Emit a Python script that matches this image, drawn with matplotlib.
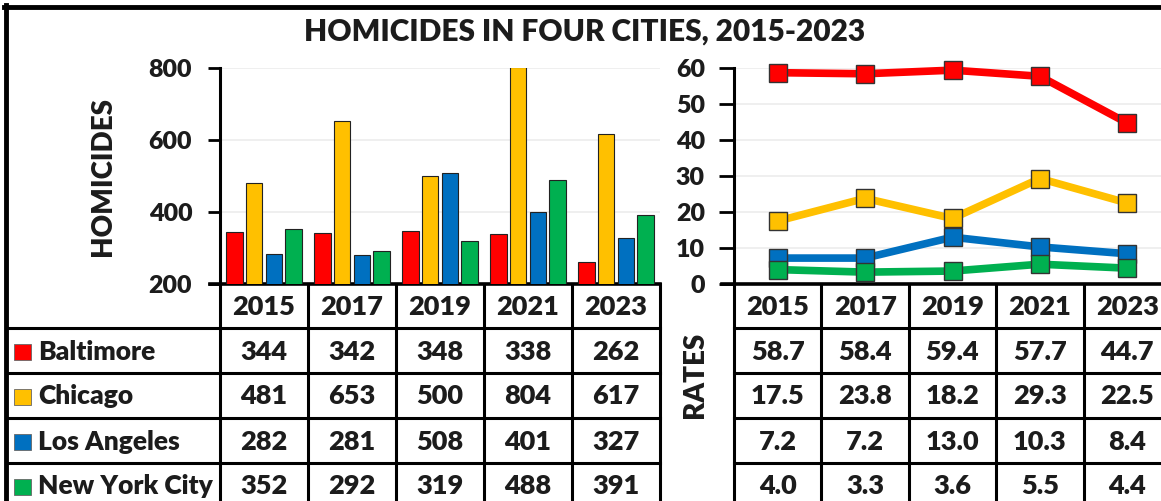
import matplotlib
matplotlib.use("Agg")
import matplotlib.pyplot as plt
from matplotlib.lines import Line2D
from matplotlib.patches import Rectangle
import numpy as np

# ---- data ----
years = ["2015", "2017", "2019", "2021", "2023"]
cities = ["Baltimore", "Chicago", "Los Angeles", "New York City"]
homicides_baltimore = [344, 342, 348, 338, 262]
homicides_chicago = [481, 653, 500, 804, 617]
homicides_la = [282, 281, 508, 401, 327]
homicides_nyc = [352, 292, 319, 488, 391]
rates_baltimore = [58.7, 58.4, 59.4, 57.7, 44.7]
rates_chicago = [17.5, 23.8, 18.2, 29.3, 22.5]
rates_la = [7.2, 7.2, 13.0, 10.3, 8.4]
rates_nyc = [4.0, 3.3, 3.6, 5.5, 4.4]
left_ticks = [200, 400, 600, 800]
right_ticks = [0, 10, 20, 30, 40, 50, 60]
title = "HOMICIDES IN FOUR CITIES, 2015-2023"

homicides = [homicides_baltimore, homicides_chicago, homicides_la, homicides_nyc]
rates = [rates_baltimore, rates_chicago, rates_la, rates_nyc]
colors = ["#ff0000", "#ffc000", "#0070c0", "#00b050"]

W, H = 1161, 501
WT = 800  # heavy
TXT = "#1c1c1c"
plt.rcParams["font.family"] = ["Lato", "DejaVu Sans"]
plt.rcParams["font.weight"] = WT
fig = plt.figure(figsize=(W / 100, H / 100), dpi=100)
fig.patch.set_facecolor("white")


def fx(x):
    return x / W


def fy(y):
    return 1 - y / H


def axes_px(x0, y0, x1, y1):
    return fig.add_axes([fx(x0), fy(y1), fx(x1) - fx(x0), fy(y0) - fy(y1)])


def hline(x0, x1, y, lw=2.2):
    fig.add_artist(Line2D([fx(x0), fx(x1)], [fy(y), fy(y)], color="black", lw=lw,
                          transform=fig.transFigure, solid_capstyle="projecting"))


def vline(x, y0, y1, lw=2.2):
    fig.add_artist(Line2D([fx(x), fx(x)], [fy(y0), fy(y1)], color="black", lw=lw,
                          transform=fig.transFigure, solid_capstyle="projecting"))


AX_TOP, AX_BOT = 68, 284
L0, L1 = 220, 660
R0, R1 = 734, 1171
n = len(years)
x = np.arange(n)

# ---- left bar chart ----
ax1 = axes_px(L0, AX_TOP, L1, AX_BOT)
bw = 0.19
for i, (vals, c) in enumerate(zip(homicides, colors)):
    ax1.bar(x + (i - 1.5) * 0.225, vals, width=bw, color=c, edgecolor="#222222",
            linewidth=0.8, zorder=3)
ax1.set_xlim(-0.5, n - 0.5)
ax1.set_ylim(left_ticks[0], left_ticks[-1])
ax1.set_yticks(left_ticks)
ax1.set_xticks([])
for s in ["top", "right"]:
    ax1.spines[s].set_visible(False)
ax1.spines["left"].set_linewidth(2.2)
ax1.spines["bottom"].set_linewidth(2.6)
ax1.spines["bottom"].set_bounds(-0.5 - 10 / 88, n - 0.5)
ax1.tick_params(axis="y", length=9, width=2, pad=11, labelsize=18, labelcolor=TXT)
ax1.grid(axis="y", color="#ececec", lw=1.2, zorder=0)
ax1.set_axisbelow(True)
for lbl in ax1.get_yticklabels():
    lbl.set_fontweight(WT)
ax1.set_ylabel("HOMICIDES", fontsize=20, fontweight=WT, labelpad=0, color=TXT)
ax1.yaxis.set_label_coords((116 - L0) / (L1 - L0), 0.5 - (177 - 176) / 216)

# ---- right line chart ----
ax2 = axes_px(R0, AX_TOP, R1, AX_BOT)
for vals, c in zip(rates, colors):
    ax2.plot(x, vals, color=c, lw=5.5, marker="s", markersize=12.5,
             markerfacecolor=c, markeredgecolor="#333333", markeredgewidth=1.0,
             zorder=3, clip_on=False)
ax2.set_xlim(-0.5, n - 0.5)
ax2.set_ylim(right_ticks[0], right_ticks[-1])
ax2.set_yticks(right_ticks)
ax2.set_xticks([])
for s in ["top", "right"]:
    ax2.spines[s].set_visible(False)
ax2.spines["left"].set_linewidth(2.2)
ax2.spines["bottom"].set_linewidth(2.6)
ax2.spines["bottom"].set_bounds(-0.5 - 12 / 87.4, n - 0.5)
ax2.tick_params(axis="y", length=11, width=2, pad=10, labelsize=18, labelcolor=TXT)
ax2.grid(axis="y", color="#ececec", lw=1.2, zorder=0)
ax2.set_axisbelow(True)
for lbl in ax2.get_yticklabels():
    lbl.set_fontweight(WT)

# ---- title ----
fig.text(fx(585), fy(32), title, ha="center", va="center", fontsize=21.5,
         fontweight=WT, color=TXT)

# ---- tables ----
rows_y = [284, 328, 373, 418, 463, 508]
left_cols = [L0 + k * (L1 - L0) / n for k in range(n + 1)]
right_cols = [R0 + k * (R1 - R0) / n for k in range(n + 1)]
NFS = 19.5   # numbers
LFS = 19     # city labels

# left table
for y in rows_y[1:]:
    hline(6, L1, y)
for xc in left_cols:
    vline(xc, AX_BOT, H + 5)
for j, yr in enumerate(years):
    fig.text(fx((left_cols[j] + left_cols[j + 1]) / 2), fy((rows_y[0] + rows_y[1]) / 2 + 1),
             yr, ha="center", va="center", fontsize=NFS, fontweight=WT, color=TXT)
for i, (city, c) in enumerate(zip(cities, colors)):
    yc = (rows_y[i + 1] + rows_y[i + 2]) / 2 + 1
    fig.add_artist(Rectangle((fx(14), fy(yc + 8)), fx(17) - fx(0), fy(0) - fy(16),
                             transform=fig.transFigure, facecolor=c,
                             edgecolor="#666666", lw=0.6))
    fig.text(fx(38), fy(yc), city, ha="left", va="center", fontsize=LFS,
             fontweight=WT, color=TXT)
    for j in range(n):
        fig.text(fx((left_cols[j] + left_cols[j + 1]) / 2), fy(yc), str(homicides[i][j]),
                 ha="center", va="center", fontsize=NFS, fontweight=WT, color=TXT)

# right table
for y in rows_y[1:]:
    hline(R0, W + 5, y)
for xc in right_cols:
    vline(xc, AX_BOT, H + 5)
for j, yr in enumerate(years):
    fig.text(fx((right_cols[j] + right_cols[j + 1]) / 2), fy((rows_y[0] + rows_y[1]) / 2 + 1),
             yr, ha="center", va="center", fontsize=NFS, fontweight=WT, color=TXT)
for i in range(len(cities)):
    yc = (rows_y[i + 1] + rows_y[i + 2]) / 2 + 1
    for j in range(n):
        fig.text(fx((right_cols[j] + right_cols[j + 1]) / 2), fy(yc), f"{rates[i][j]:.1f}",
                 ha="center", va="center", fontsize=NFS, fontweight=WT, color=TXT)

fig.text(fx(695), fy(375), "RATES", rotation=90, ha="center", va="center",
         fontsize=20, fontweight=WT, color=TXT)

# outer frame
hline(4, W + 5, 7, lw=3.5)
vline(6, 5, H + 5, lw=3.5)

fig.savefig("out.png", dpi=100)
